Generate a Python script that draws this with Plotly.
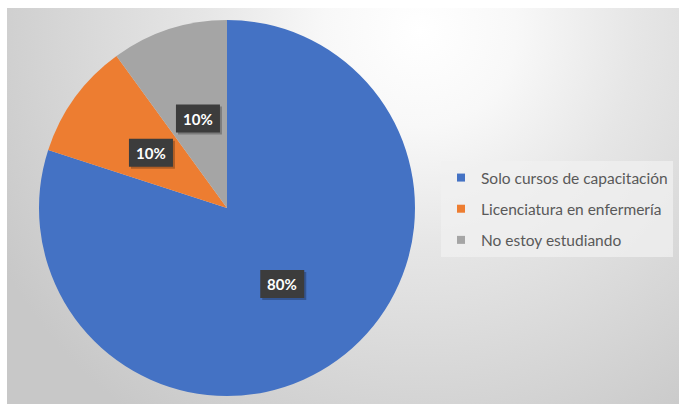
import math
import base64
import plotly.graph_objects as go

# Survey answers and their shares
labels = ["Solo cursos de capacitación", "Licenciatura en enfermería", "No estoy estudiando"]
values = [80, 10, 10]
colors = ["#4472C4", "#ED7D31", "#A5A5A5"]

W, H = 679, 406
cx, cy, R = 227, 208, 188  # pie centre and radius in pixels
BOX_W, BOX_H = 44, 28      # data-label box size in pixels

# Soft radial backdrop inside a thin white frame
svg = f'''<svg xmlns="http://www.w3.org/2000/svg" width="{W}" height="{H}" viewBox="0 0 {W} {H}" preserveAspectRatio="none">
<defs><radialGradient id="g" cx="420" cy="30" r="480" gradientUnits="userSpaceOnUse">
<stop offset="0" stop-color="#ffffff"/><stop offset="0.2" stop-color="#f8f8f8"/>
<stop offset="0.45" stop-color="#e6e6e6"/><stop offset="1" stop-color="#c8c8c8"/></radialGradient></defs>
<rect x="0" y="0" width="{W}" height="{H}" fill="#ffffff"/>
<rect x="7" y="8" width="{W - 7}" height="{H - 10}" fill="url(#g)"/></svg>'''
bg_uri = "data:image/svg+xml;base64," + base64.b64encode(svg.encode()).decode()

fig = go.Figure()
fig.add_trace(go.Pie(
    labels=labels, values=values, sort=False, direction="clockwise", rotation=0,
    marker=dict(colors=colors, line=dict(width=0)),
    textinfo="none", hoverinfo="label+percent", showlegend=False,
    domain=dict(x=[(cx - R) / W, (cx + R) / W], y=[1 - (cy + R) / H, 1 - (cy - R) / H]),
))

# Legend entries
for lab, col in zip(labels, colors):
    fig.add_trace(go.Scatter(x=[None], y=[None], mode="markers", name=lab, legendgroup=lab,
                             marker=dict(symbol="square", size=8, color=col)))

# Percentage labels in dark boxes at half radius along each slice's bisector
total = sum(values)
cum = 0
annotations, shapes = [], []
for v in values:
    mid = (cum + v / 2) / total * 2 * math.pi
    cum += v
    fx = (cx + 0.5 * R * math.sin(mid)) / W
    fy = 1 - (cy - 0.5 * R * math.cos(mid)) / H
    box = dict(type="rect", xref="paper", yref="paper", xsizemode="pixel", ysizemode="pixel",
               xanchor=fx, yanchor=fy, line=dict(width=0), layer="above")
    # soft drop shadow, then the dark box
    shapes.append(dict(box, x0=-BOX_W / 2 + 2, x1=BOX_W / 2 + 2, y0=-BOX_H / 2 - 2, y1=BOX_H / 2 - 2,
                       fillcolor="rgba(0,0,0,0.25)"))
    shapes.append(dict(box, x0=-BOX_W / 2, x1=BOX_W / 2, y0=-BOX_H / 2, y1=BOX_H / 2,
                       fillcolor="#3c3c3c"))
    annotations.append(dict(x=fx, y=fy, xref="paper", yref="paper", showarrow=False,
                            text=f"<b>{round(v / total * 100)}%</b>",
                            xanchor="center", yanchor="middle",
                            font=dict(family="Lato", size=15, color="white")))

fig.update_layout(
    width=W, height=H, margin=dict(l=0, r=0, t=0, b=0, autoexpand=False),
    paper_bgcolor="white", plot_bgcolor="rgba(0,0,0,0)",
    xaxis=dict(visible=False), yaxis=dict(visible=False),
    images=[dict(source=bg_uri, xref="paper", yref="paper", x=0, y=1, sizex=1, sizey=1,
                 xanchor="left", yanchor="top", sizing="stretch", layer="below")],
    shapes=shapes,
    annotations=annotations,
    legend=dict(x=441 / W, y=1 - 161 / H, xanchor="left", yanchor="top",
                bgcolor="rgba(240,240,240,0.75)", tracegroupgap=8, itemwidth=30,
                font=dict(family="Lato", size=15.5, color="#595959")),
)

fig.write_html("out.html")
